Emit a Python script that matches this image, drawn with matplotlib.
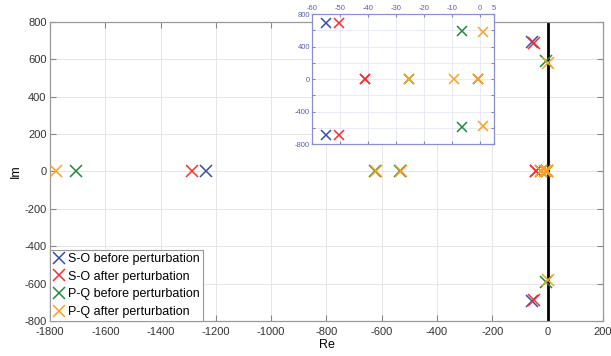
import numpy as np
import matplotlib
matplotlib.use('Agg')
import matplotlib.pyplot as plt
from matplotlib.ticker import FuncFormatter

plt.rcParams['font.family'] = ['Liberation Sans', 'DejaVu Sans']
plt.rcParams['axes.unicode_minus'] = False

# poles (Re, Im)
so_before_re = [-1236, -55, -55]
so_before_im = [0, 692, -692]
so_after_re = [-1286, -50.5, -50.5, -41, -41]
so_after_im = [0, 685, -685, 0, 0]
pq_before_re = [-1706, -626, -534, -25.5, -6.5, -6.5, -0.7]
pq_before_im = [0, 0, 0, 0, 592, -590, 0]
pq_after_re = [-1780, -622, -530, -25.5, -9.3, -0.7, -0.7, 1, 1]
pq_after_im = [0, 0, 0, 0, 0, 0, 0, 578, -578]

labels = ['S-O before perturbation', 'S-O after perturbation',
          'P-Q before perturbation', 'P-Q after perturbation']
colors = ['#3a4cb0', '#ff2a2a', '#1e8c3a', '#ffa020']
series = [(so_before_re, so_before_im), (so_after_re, so_after_im),
          (pq_before_re, pq_before_im), (pq_after_re, pq_after_im)]

fig = plt.figure(figsize=(6.11, 3.56), dpi=100)
ax = fig.add_axes([0.0818, 0.098, 0.905, 0.841])

ax.axvline(0, color='black', lw=2, zorder=2)
for (re, im), c, lab in zip(series, colors, labels):
    ax.plot(re, im, 'x', color=c, ms=8.5, mew=1.1, ls='none', label=lab,
            zorder=3)

ax.set_xlim(-1800, 200)
ax.set_ylim(-800, 800)
ax.set_xticks(np.arange(-1800, 201, 200))
ax.set_yticks(np.arange(-800, 801, 200))
ax.grid(True, color='#e6e6e6', lw=0.7)
ax.tick_params(direction='in', length=4, labelsize=8, top=True, right=True,
               color='#888888', labelcolor='#333333')
ax.tick_params(axis='x', pad=4.5)
ax.tick_params(axis='y', pad=2.5)
for s in ax.spines.values():
    s.set_color('#999999')
    s.set_linewidth(0.9)
ax.set_xlabel('Re', fontsize=9, labelpad=1)
ax.set_ylabel('Im', fontsize=9, labelpad=2)

leg = ax.legend(loc='lower left', fontsize=9, fancybox=False,
                borderaxespad=0, framealpha=1, edgecolor='#999999',
                handlelength=0.9, handletextpad=0.3, borderpad=0.25,
                labelspacing=0.45)
leg.get_frame().set_linewidth(0.8)

# zoomed inset near the imaginary axis
ins = fig.add_axes([0.5106, 0.5955, 0.2979, 0.365])
for (re, im), c in zip(series, colors):
    ins.plot(re, im, 'x', color=c, ms=7, mew=1.1, ls='none')
ins.set_xlim(-60, 5)
ins.set_ylim(-800, 800)
ins.set_xticks([-60, -50, -40, -30, -20, -10, 0, 5])
ins.set_yticks(np.arange(-800, 801, 200))
ins.yaxis.set_major_formatter(
    FuncFormatter(lambda v, p: '%d' % v if v % 400 == 0 else ''))
ins.xaxis.tick_top()
ins.grid(True, color='#e4e6f4', lw=0.6)
ins.tick_params(direction='in', length=2, labelsize=5.5, color='#8088cc',
                labelcolor='#5560b0', pad=1.5, top=True, bottom=True,
                left=True, right=True)
for s in ins.spines.values():
    s.set_color('#8890d0')
    s.set_linewidth(0.9)

fig.savefig('out.png', dpi=100)
